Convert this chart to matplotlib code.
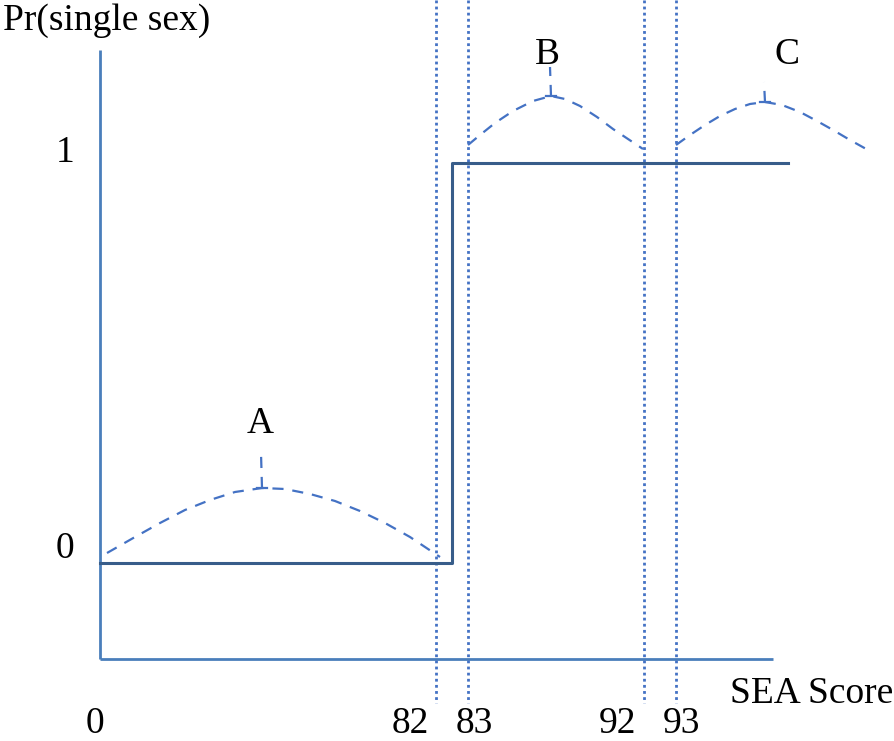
import matplotlib
matplotlib.use("Agg")
import matplotlib.pyplot as plt
import numpy as np

plt.rcParams['font.family'] = ['Liberation Serif', 'DejaVu Serif']

# Schematic diagram laid out in a canvas coordinate system (0..894, 0..741, y down)
tick_labels = ["0", "82", "83", "92", "93"]
tick_x = [95, 410, 474, 617, 682]
cutoff_x = [436, 468, 644, 676]          # dotted cutoff lines (82, 83, 92, 93)

# step function Pr(single sex)
step_x = [100, 452, 452, 788]
step_y = [563, 563, 163, 163]

# axes lines
yaxis_x = [100, 100]; yaxis_y = [50, 659]
xaxis_x = [100, 773]; xaxis_y = [659, 659]

# distribution curves (dashed)
curveA_x = [107, 135, 160, 185, 210, 235, 262, 285, 310, 335, 360, 385, 410, 440]
curveA_y = [553, 537, 523, 510, 500, 492, 488, 489, 494, 501, 511, 523, 537, 557]
curveB_x = [468, 480, 495, 513, 533, 551, 565, 580, 597, 613, 628, 643]
curveB_y = [145, 135, 123, 111, 101, 96, 99, 106, 117, 129, 139, 149]
curveC_x = [676, 690, 705, 720, 735, 750, 765, 782, 800, 817, 833, 850, 868]
curveC_y = [145, 135, 125, 116, 109, 104, 102, 105, 112, 121, 130, 140, 150]

peak_labels = ["A", "B", "C"]
peak_x = [262, 551, 765]
peak_y = [488, 96, 102]
peak_top = [453, 67, 82]
label_x = [260, 547, 787]
label_y = [433, 64, 64]

axis_blue = "#4A7EBB"
step_blue = "#385D8A"
dash_blue = "#4472C4"

fig = plt.figure(figsize=(8.94, 7.41), dpi=100)
ax = fig.add_axes([0, 0, 1, 1])
ax.set_xlim(0, 894)
ax.set_ylim(741, 0)
ax.axis('off')

ax.plot(yaxis_x, yaxis_y, color=axis_blue, lw=2, solid_capstyle='butt')
ax.plot(xaxis_x, xaxis_y, color=axis_blue, lw=2, solid_capstyle='butt')

for cx in cutoff_x:
    ax.plot([cx, cx], [0, 703], color=dash_blue, lw=2, linestyle=(0, (1, 1.2)))

ax.plot(step_x, step_y, color=step_blue, lw=2.2)

for xs, ys in [(curveA_x, curveA_y), (curveB_x, curveB_y), (curveC_x, curveC_y)]:
    ax.plot(xs, ys, color=dash_blue, lw=1.6, linestyle=(0, (5, 4)))

for px, py, pt in zip(peak_x, peak_y, peak_top):
    ax.plot([px, px - 1], [py, pt], color=dash_blue, lw=1.6, linestyle=(0, (5, 4)))
    ax.plot([px - 5, px + 5], [py, py], color=dash_blue, lw=1.6)

fs = 27
for lab, lx, ly in zip(peak_labels, label_x, label_y):
    ax.text(lx, ly, lab, fontsize=fs, ha='center', va='baseline')

ax.text(3, 30, "Pr(single sex)", fontsize=fs, ha='left', va='baseline')
ax.text(65, 162, "1", fontsize=fs, ha='center', va='baseline')
ax.text(65, 558, "0", fontsize=fs, ha='center', va='baseline')
ax.text(893, 703, "SEA Score", fontsize=fs, ha='right', va='baseline')
for lab, tx in zip(tick_labels, tick_x):
    ax.text(tx, 733, lab, fontsize=fs, ha='center', va='baseline')

fig.savefig("out.png", dpi=100)
